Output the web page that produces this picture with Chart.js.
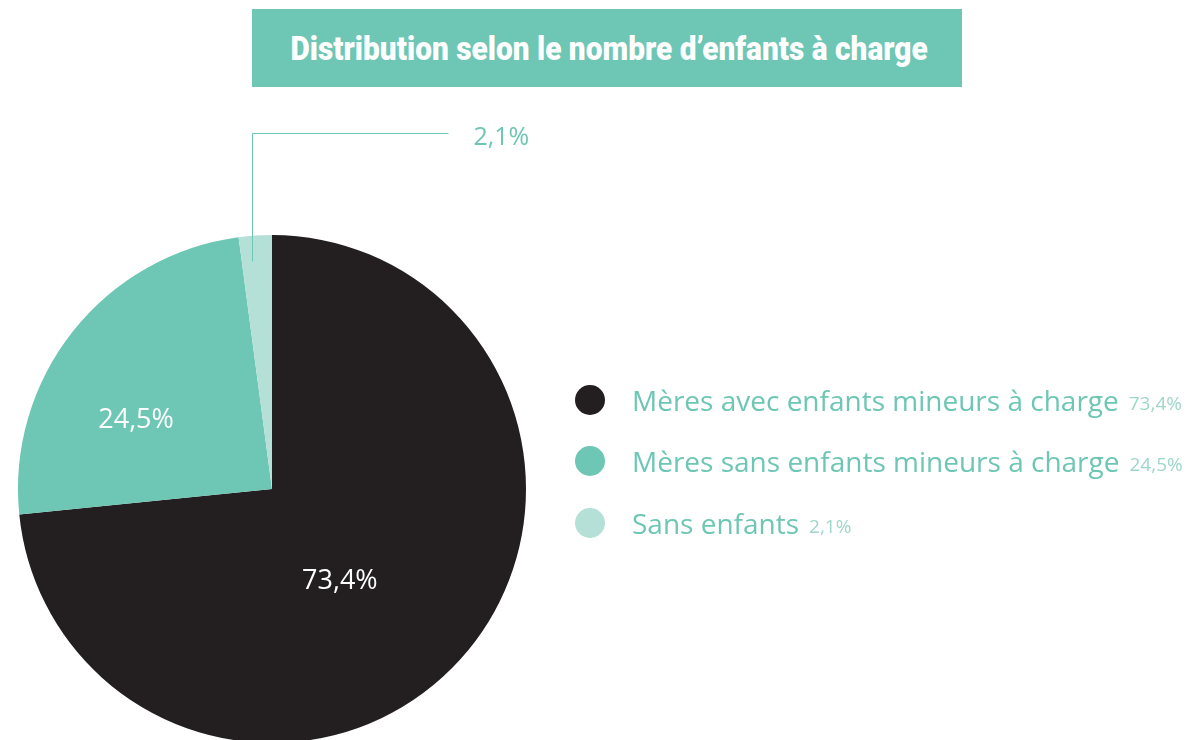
<!DOCTYPE html>
<html>
<head>
<meta charset="utf-8">
<script src="https://cdn.jsdelivr.net/npm/chart.js@4.4.0/dist/chart.umd.min.js"></script>
<style>
	html, body { margin: 0; padding: 0; background: #fff; overflow: hidden; width: 1188px; height: 740px; }
	#title {
		position: absolute; left: 252px; top: 9px; width: 710px; height: 78px; overflow: hidden;
		display: flex; justify-content: center; align-items: center;
		background: #6ec6b4; color: #fff; white-space: nowrap;
		font-family: "Roboto", sans-serif; font-weight: 900; font-size: 34px;
	}
	#title span { display: inline-block; flex-shrink: 0; white-space: nowrap; transform-origin: center; margin-left: 5px; }
	#wrap { position: absolute; left: 0; top: 0; width: 1188px; height: 760px; }
	#legend { position: absolute; left: 575px; top: 369px; margin: 0; padding: 0; list-style: none; }
	#legend li { display: flex; align-items: center; height: 61.5px; font-family: "Open Sans", sans-serif; color: #6ec6b4; font-size: 28px; }
	#legend .dot { width: 30px; height: 30px; border-radius: 50%; margin-right: 27px; flex-shrink: 0; }
	#legend .pct { font-size: 19px; color: #9fd6ca; margin-left: 10px; padding-top: 6px; }
</style>
</head>
<body>
<div id="title"><span>Distribution selon le nombre d’enfants à charge</span></div>
<div id="wrap"><canvas id="chart"></canvas></div>
<ul id="legend"></ul>
<script>
const categories = ['Mères avec enfants mineurs à charge', 'Mères sans enfants mineurs à charge', 'Sans enfants'];
const values = [73.4, 24.5, 2.1];
const colors = ['#231f20', '#6ec6b4', '#b5e0d7'];

const fmt = v => v.toFixed(1).replace('.', ',') + '%';

// squeeze the title to a condensed look
const titleSpan = document.querySelector('#title span');
titleSpan.style.transform = `scaleX(${637 / titleSpan.offsetWidth})`;

// slice labels: inside for big slices, leader line for the small one
const sliceLabels = {
	id: 'sliceLabels',
	afterDatasetsDraw(chart, args, opts) {
		const ctx = chart.ctx;
		const meta = chart.getDatasetMeta(0);
		meta.data.forEach((arc, i) => {
			const {x, y, startAngle, endAngle, outerRadius} = arc.getProps(['x', 'y', 'startAngle', 'endAngle', 'outerRadius'], true);
			const place = opts.place[i];
			const mid = (startAngle + endAngle) / 2 + place.shift;
			const px = x + Math.cos(mid) * outerRadius * place.r;
			const py = y + Math.sin(mid) * outerRadius * place.r;
			ctx.save();
			if (place.leader) {
				const top = y - outerRadius - 102;
				const lx = Math.round(px) + 0.5;
				ctx.strokeStyle = '#6ec6b4';
				ctx.lineWidth = 1;
				ctx.beginPath();
				ctx.moveTo(lx, py);
				ctx.lineTo(lx, top + 0.5);
				ctx.lineTo(lx + 196, top + 0.5);
				ctx.stroke();
				ctx.font = '25px "Open Sans", sans-serif';
				ctx.fillStyle = '#6ec6b4';
				ctx.textAlign = 'left';
				ctx.textBaseline = 'middle';
				ctx.fillText(fmt(values[i]), lx + 221, top + 5);
			} else {
				ctx.font = '27px "Open Sans", sans-serif';
				ctx.fillStyle = '#fff';
				ctx.textAlign = 'center';
				ctx.textBaseline = 'middle';
				ctx.fillText(fmt(values[i]), px, py);
			}
			ctx.restore();
		});
	}
};

new Chart(document.getElementById('chart'), {
	type: 'pie',
	data: {
		labels: categories,
		datasets: [{
			data: values,
			backgroundColor: colors,
			borderWidth: 0
		}]
	},
	options: {
		responsive: true,
		maintainAspectRatio: false,
		animation: false,
		layout: { padding: { left: 18, top: 235, right: 662, bottom: 17 } },
		plugins: {
			legend: { display: false },
			tooltip: { enabled: false },
			sliceLabels: {
				place: [
					{ r: 0.45, shift: 0.2 },
					{ r: 0.6, shift: -0.2 },
					{ r: 0.9, shift: -0.0227, leader: true }
				]
			}
		}
	},
	plugins: [sliceLabels]
});

const ul = document.getElementById('legend');
categories.forEach((c, i) => {
	const li = document.createElement('li');
	const dot = document.createElement('span');
	dot.className = 'dot';
	dot.style.background = colors[i];
	const txt = document.createElement('span');
	txt.textContent = c;
	const pct = document.createElement('span');
	pct.className = 'pct';
	pct.textContent = fmt(values[i]);
	li.appendChild(dot);
	li.appendChild(txt);
	li.appendChild(pct);
	ul.appendChild(li);
});
</script>
</body>
</html>
